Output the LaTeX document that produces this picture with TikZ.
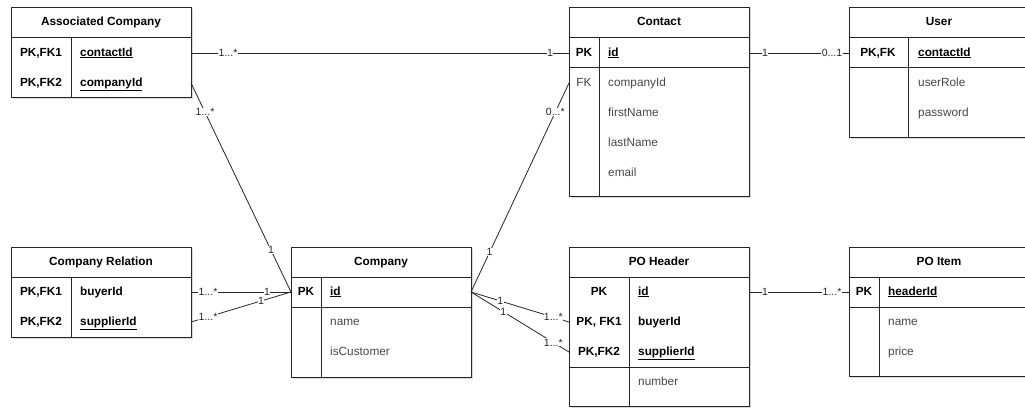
\documentclass[tikz,border=0pt]{standalone}
\usepackage{fontspec}
\setmainfont{Liberation Sans}
\usetikzlibrary{shadows}
\tikzset{
  tbl/.style={draw=black!85, line width=0.9pt, fill=white, anchor=north west, minimum width=180pt, inner sep=0pt,
    drop shadow={shadow xshift=2pt, shadow yshift=-2pt, opacity=0.25, fill=black!60}},
  sep/.style={draw=black!85, line width=0.9pt},
  txt/.style={inner sep=0pt, text height=8.5pt, text depth=2.4pt, font=\fontsize{11.8}{14}\selectfont},
  hdr/.style={txt, font=\bfseries\fontsize{11.8}{14}\selectfont},
  keycol/.style={txt, font=\bfseries\fontsize{11.8}{14}\selectfont},
  fkcol/.style={txt, text=black!75},
  keyfld/.style={txt, anchor=west, font=\bfseries\fontsize{11.8}{14}\selectfont},
  fld/.style={txt, anchor=west, text=black!72},
  rel/.style={draw=black!85, line width=0.8pt},
  lbl/.style={fill=white, inner sep=0.3pt, font=\fontsize{10.5}{11}\selectfont, text=black!85},
}
\begin{document}
\begin{tikzpicture}[x=1pt, y=-1pt]
\clip (0,0) rectangle (1025,407);
\fill[white] (0,0) rectangle (1025,407);

% ---------- Associated Company ----------
\node[tbl, minimum height=90pt] (ac) at (11,7) {};
\draw[sep] (11,37) -- (191,37);
\draw[sep] (71,37) -- (71,97);
\node[hdr] (ach) at (101,22) {Associated Company};
\node[keycol] (ack1) at (41,53) {PK,FK1};
\node[keyfld] (acf1) at (80,53) {\underline{contactId}};
\node[keycol] (ack2) at (41,83) {PK,FK2};
\node[keyfld] (acf2) at (80,83) {\underline{companyId}};
\coordinate (ac-contact) at (191,53);
\coordinate (ac-company) at (191,83);

% ---------- Contact ----------
\node[tbl, minimum height=189pt] (ct) at (569,7) {};
\draw[sep] (569,37) -- (749,37);
\draw[sep] (569,67) -- (749,67);
\draw[sep] (599,37) -- (599,196);
\node[hdr] (cth) at (659,22) {Contact};
\node[keycol] (ctk1) at (584,53) {PK};
\node[keyfld] (ctf1) at (608,53) {\underline{id}};
\node[fkcol] (ctk2) at (584,83) {FK};
\node[fld] (ctf2) at (608,83) {companyId};
\node[fld] (ctf3) at (608,113) {firstName};
\node[fld] (ctf4) at (608,143) {lastName};
\node[fld] (ctf5) at (608,173) {email};
\coordinate (ct-id-w) at (569,53);
\coordinate (ct-id-e) at (749,53);
\coordinate (ct-company) at (569,83);

% ---------- User ----------
\node[tbl, minimum height=130pt] (us) at (849,7) {};
\draw[sep] (849,37) -- (1029,37);
\draw[sep] (849,67) -- (1029,67);
\draw[sep] (908,37) -- (908,137);
\node[hdr] (ush) at (939,22) {User};
\node[keycol] (usk1) at (878,53) {PK,FK};
\node[keyfld] (usf1) at (918,53) {\underline{contactId}};
\node[fld] (usf2) at (918,83) {userRole};
\node[fld] (usf3) at (918,113) {password};
\coordinate (us-contact) at (849,53);

% ---------- Company Relation ----------
\node[tbl, minimum height=90pt] (cr) at (11,247) {};
\draw[sep] (11,277) -- (191,277);
\draw[sep] (71,277) -- (71,337);
\node[hdr] (crh) at (101,262) {Company Relation};
\node[keycol] (crk1) at (41,292) {PK,FK1};
\node[keyfld] (crf1) at (80,292) {buyerId};
\node[keycol] (crk2) at (41,322) {PK,FK2};
\node[keyfld] (crf2) at (80,322) {\underline{supplierId}};
\coordinate (cr-buyer) at (191,292);
\coordinate (cr-supplier) at (191,322);

% ---------- Company ----------
\node[tbl, minimum height=130pt] (co) at (291,247) {};
\draw[sep] (291,277) -- (471,277);
\draw[sep] (291,307) -- (471,307);
\draw[sep] (321,277) -- (321,377);
\node[hdr] (coh) at (381,262) {Company};
\node[keycol] (cok1) at (306,292) {PK};
\node[keyfld] (cof1) at (330,292) {\underline{id}};
\node[fld] (cof2) at (330,322) {name};
\node[fld] (cof3) at (330,352) {isCustomer};
\coordinate (co-id-w) at (291,292);
\coordinate (co-id-e) at (471,292);

% ---------- PO Header ----------
\node[tbl, minimum height=159pt] (ph) at (569,247) {};
\draw[sep] (569,277) -- (749,277);
\draw[sep] (569,367) -- (749,367);
\draw[sep] (629,277) -- (629,406);
\node[hdr] (phh) at (659,262) {PO Header};
\node[keycol] (phk1) at (599,292) {PK};
\node[keyfld] (phf1) at (638,292) {\underline{id}};
\node[keycol] (phk2) at (599,322) {PK, FK1};
\node[keyfld] (phf2) at (638,322) {buyerId};
\node[keycol] (phk3) at (599,352) {PK,FK2};
\node[keyfld] (phf3) at (638,352) {\underline{supplierId}};
\node[fld] (phf4) at (638,382) {number};
\coordinate (ph-id) at (749,292);
\coordinate (ph-buyer) at (569,322);
\coordinate (ph-supplier) at (569,352);

% ---------- PO Item ----------
\node[tbl, minimum height=129pt] (pi) at (849,247) {};
\draw[sep] (849,277) -- (1029,277);
\draw[sep] (849,307) -- (1029,307);
\draw[sep] (879,277) -- (879,376);
\node[hdr] (pih) at (939,262) {PO Item};
\node[keycol] (pik1) at (864,292) {PK};
\node[keyfld] (pif1) at (888,292) {\underline{headerId}};
\node[fld] (pif2) at (888,322) {name};
\node[fld] (pif3) at (888,352) {price};
\coordinate (pi-header) at (849,292);

% ---------- Relationships ----------
\draw[rel] (ac-contact) -- node[lbl, pos=0.098] (l1a) {1...*} node[lbl, pos=0.95] (l1b) {1} (ct-id-w);
\draw[rel] (ac-company) -- node[lbl, pos=0.14] (l2a) {1...*} node[lbl, pos=0.8] (l2b) {1} (co-id-w);
\draw[rel] (ct-company) -- node[lbl, pos=0.14] (l3a) {0...*} node[lbl, pos=0.81] (l3b) {1} (co-id-e);
\draw[rel] (ct-id-e) -- node[lbl, pos=0.16] (l4a) {1} node[lbl, pos=0.83] (l4b) {0...1} (us-contact);
\draw[rel] (cr-buyer) -- node[lbl, pos=0.17] (l5a) {1...*} node[lbl, pos=0.76] (l5b) {1} (co-id-w);
\draw[rel] (cr-supplier) -- node[lbl, pos=0.17] (l6a) {1...*} node[lbl, pos=0.7] (l6b) {1} (co-id-w);
\draw[rel] (co-id-e) -- node[lbl, pos=0.3] (l7a) {1} node[lbl, pos=0.84] (l7b) {1...*} (ph-buyer);
\draw[rel] (co-id-e) -- node[lbl, pos=0.33] (l8a) {1} node[lbl, pos=0.84] (l8b) {1...*} (ph-supplier);
\draw[rel] (ph-id) -- node[lbl, pos=0.16] (l9a) {1} node[lbl, pos=0.83] (l9b) {1...*} (pi-header);
\end{tikzpicture}
\end{document}
